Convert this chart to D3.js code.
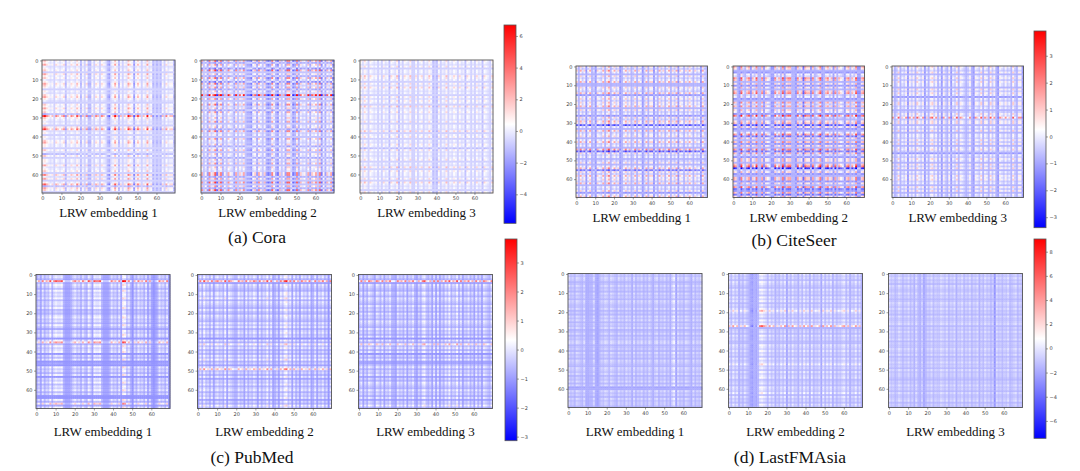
<!DOCTYPE html>
<html>
<head>
<meta charset="utf-8">
<script src="https://cdn.jsdelivr.net/npm/d3@7"></script>
<style>
  body { margin: 0; background: #fff; }
  .tick text { font-family: "DejaVu Sans", sans-serif; font-size: 5px; fill: #444; }
  .tick line { stroke: #444; stroke-width: 0.5; }
</style>
</head>
<body>
<svg id="fig" width="1080" height="471"></svg>
<script>
// ---- data ----
const panelTitles = ["(a) Cora", "(b) CiteSeer", "(c) PubMed", "(d) LastFMAsia"];
const embeddingLabels = ["LRW embedding 1", "LRW embedding 2", "LRW embedding 3"];
const axisTicks = [0, 10, 20, 30, 40, 50, 60];
const gridSize = 70;

// colour limits of each colorbar (vmin, vmax) and their tick labels
const colorLimits = [[-5.83, 6.69], [-3.39, 3.92], [-3.14, 3.81], [-7.44, 9.05]];
const colorbarTicks = [
  [-4, -2, 0, 2, 4, 6],
  [-3, -2, -1, 0, 1, 2, 3],
  [-3, -2, -1, 0, 1, 2, 3],
  [-6, -4, -2, 0, 2, 4, 6, 8]
];

// row / column profiles per embedding, one char per row or column:
// "0".."9" = 0..+9 steps, "a".."i" = -1..-9 steps
const coraRows = [
  ["102a01b201","a0210b0a12","0ab10201c6","10a0b25a0b","0a1200b1ac","1b00a2a01b","3a2b04c21b"],
  ["3c20d4b1c3","0d3a2c1a8b","2b03a1c20a","1a2b01c3a0","b20a1c02b1","0c1a2b10a3","3c2b4b2c4b"],
  ["10a1b00a21","0b1a20a0b1","a10b2a01a0","0a1b00a2b0","1b0a10c1a0","a01b0a2b10","0a1b20a0b1"]
];
const coraCols = [
  ["2310a0b10a","01c0a10a20","c0b1cc0b10","b10acda030","c0b0a310d0","20b0a3a0cb","cbc0b1a00c"],
  ["2b0c3a14d1","3c0b20ac2b","1a2bccd01c","20b1cdc30c","d1b0c33adc","3c1a0b2c10","2b3d0c1a2d"],
  ["1a20b10a0b","0b1a0c10a2","c0b10a2bb1","b01b0a20cb","c1b0a2b0a1","0b1a0c10b0","b1a0c10ab1"]
];
const citeseerRows = [
  ["1a20b1a02b","b10a2c01a1","02b1a0c1a2","1e0b2a01b0","2a0b3e1a0b","a1b02d1a20","1a2b0a1c02"],
  ["21bc0a32b1","c1b23a0cb2","a2b10c4ab1","2e1cb03d1b","2c1b3d2ac1","1b24fa1cb2","2c1b3dc2d1"],
  ["10a1b01a10","0b1a10c0a1","1a0ba104a1","1b0a1b00a1","a1b01ac0a1","0b1a1b0a10","1a0b1a1b0a"]
];
const citeseerCols = [
  ["1b2a1c02ba","c10a2b13b0","2a1cb02a1b","a2b10ca2b1","1c0b2a1b02","b1a2c10b1a","20b1a0c2ab"],
  ["21bc3ab12c","1a3bb2c10a","cc2a1b3c12","2bbc2a1d21","1c2ba13cb1","2a1c2b10ac","12b1a3cc12"],
  ["1ba2b0a1c1","a1b20a1c0b","12a1b0c1ab","1c0a2b10ab","a1bc10a2b1","0b2a1bc10a","1a0b2ab11c"]
];
const pubmedRows = [
  ["a0b9a10b1a","0a1b00a1ba","b01a0b1ac0","a10d16b1a0","1d0b1dcd1a","0b1d0a1b0a","1b0dd1b4c1"],
  ["a1b9c10ab1","1a2b10ab1a","b10ab1a1b0","1a0d1b3a1b","0b1a2b0c16","a0b1c0a1b0","1b0a1c0b2a"],
  ["a0b9c10ab1","0b10ab1a0b","1a0b10ab1a","0b1d1b5a1b","1d0b1cca1b","0a1c0b10ab","1a0b1c0a2b"]
];
const pubmedCols = [
  ["b0c1b0a2b1","2112bcccb0","1a0b1ab20c","2112bcccb1","a0b1c43a1b","d0b1a0b1c0","cdcb1a0b1d"],
  ["c1b2a0b1c0","1a0b2c10ab","b1a0c1b0a1","0c1b0a2b1c","b0c1a23a1c","1b0c1a0b1c","b1c0a1b0d1"],
  ["b1c0b10ac1","0b1c0a1bbc","1a0b1c0a1b","c0b12ab0c1","c1c0b1a2b0","a2b1c0a1b0","c1b0c10ab1"]
];
const lastfmRows = [
  ["0a10ba1a0b","1a0b10aa1b","0b1a1b0a1b","a1b0a11ba0","b1a0b10ab1","0a1b0a1b1d","c1a0b1a00b"],
  ["1a0b10ab1a","0b1a1b0a15","1a0b1a19ca","0b1a0bb10a","1a0b1a03a0","b1a01ba0b1","0a2b1a0b1a"],
  ["0a1a0b10aa","1a0ba10a1a","0b1aa01b0a","1a0a1b0aa1","0a1b0a1a0b","1a00ab0a1a","0b1aa01b0a"]
];
const lastfmCols = [
  ["1a0b10ab1c","cbb1cdb0a1","0b10ab1a0b","1a0c1b0a1b","0b1ac01b0a","1b0c13d1a0","b10ac1b0a1"],
  ["1b2a1c0b1a","bdecdb3421","b2a1c0b1a2","d1b2a0c1b2","a1c2b0a1d2","b1a2c1b0a1","2b1c0a2b1c"],
  ["1a0ba10b0a","1b0c1bc0db","0a1b0aa10a","1b0a1c0a1b","0a1b0a1c0b","1a0b0f1a0b","0a1ba01b0a"]
];
// size of one step, background level of each embedding, row-column interaction
const levelUnits = [0.35, 0.3, 0.2, 0.3];
const baseLevels = [[0, -0.3, 0], [-0.2, -0.2, -0.2], [-0.3, -0.3, -0.3], [-0.9, -0.8, -0.8]];
const mixK = [1.5, 1.5, 1.2, 1.0];

const allRows = [coraRows, citeseerRows, pubmedRows, lastfmRows];
const allCols = [coraCols, citeseerCols, pubmedCols, lastfmCols];

// ---- layout ----
const layout = [
  { hx: [42, 201, 360], hy: 60, hs: 133, cbx: 504, cby: [25, 223.3], capY: 216.5, tx: 257, ty: 243 },
  { hx: [576, 733, 892], hy: 66, hs: 131.5, cbx: 1034, cby: [31, 227.7], capY: 221.7, tx: 794, ty: 246 },
  { hx: [36, 197.5, 358.5], hy: 274.5, hs: 134, cbx: 505, cby: [239, 440.7], capY: 436, tx: 252, ty: 463 },
  { hx: [568, 728.5, 888.5], hy: 273.5, hs: 134, cbx: 1034, cby: [239, 438.3], capY: 436, tx: 790, ty: 463 }
];
const cbWidth = 12;
const serif = '"Liberation Serif", "Times New Roman", "DejaVu Serif", serif';

const svg = d3.select("#fig");
const defs = svg.append("defs");

// slight softening, like the downsampled original
defs.append("filter").attr("id", "soft")
  .attr("x", "-2%").attr("y", "-2%").attr("width", "104%").attr("height", "104%")
  .append("feGaussianBlur").attr("stdDeviation", 0.45);

const cells = d3.range(gridSize).flatMap(i => d3.range(gridSize).map(j => ({ i, j })));

panelTitles.forEach((title, p) => {
  const L = layout[p];
  const [lo, hi] = colorLimits[p];
  const unit = levelUnits[p];
  const level = ch => (ch >= "a" ? -(ch.charCodeAt(0) - 96) : +ch) * unit;
  const color = d3.scaleLinear()
    .domain([lo, (lo + hi) / 2, hi])
    .range(["#0000ff", "#ffffff", "#ff0000"])
    .clamp(true);

  embeddingLabels.forEach((label, e) => {
    const r = allRows[p][e].join("").split("").map(level);
    const c = allCols[p][e].join("").split("").map(level);
    const base = baseLevels[p][e];
    const k = mixK[p];
    const value = d => base + r[d.i] + c[d.j] + k * r[d.i] * c[d.j];

    const x = d3.scaleBand().domain(d3.range(gridSize)).range([L.hx[e], L.hx[e] + L.hs]);
    const y = d3.scaleBand().domain(d3.range(gridSize)).range([L.hy, L.hy + L.hs]);
    const g = svg.append("g");

    g.append("g")
      .attr("filter", "url(#soft)")
      .selectAll("rect")
      .data(cells)
      .join("rect")
      .attr("x", d => x(d.j))
      .attr("y", d => y(d.i))
      .attr("width", x.bandwidth() + 0.4)
      .attr("height", y.bandwidth() + 0.4)
      .attr("fill", d => color(value(d)));

    g.append("rect")
      .attr("x", L.hx[e]).attr("y", L.hy)
      .attr("width", L.hs).attr("height", L.hs)
      .attr("fill", "none").attr("stroke", "#555").attr("stroke-width", 0.9);

    g.append("g")
      .attr("transform", `translate(0,${L.hy + L.hs})`)
      .call(d3.axisBottom(x).tickValues(axisTicks).tickSize(2).tickPadding(1.5))
      .call(a => a.select(".domain").remove());

    g.append("g")
      .attr("transform", `translate(${L.hx[e]},0)`)
      .call(d3.axisLeft(y).tickValues(axisTicks).tickSize(2).tickPadding(1.5))
      .call(a => a.select(".domain").remove());

    svg.append("text")
      .attr("x", L.hx[e] + L.hs / 2)
      .attr("y", L.capY)
      .attr("text-anchor", "middle")
      .style("font-family", serif)
      .style("font-size", "13px")
      .style("fill", "#111")
      .text(label);
  });

  // colorbar
  const gid = "grad" + p;
  const grad = defs.append("linearGradient")
    .attr("id", gid).attr("x1", 0).attr("y1", 1).attr("x2", 0).attr("y2", 0);
  d3.range(0, 1.0001, 0.1).forEach(t => {
    grad.append("stop").attr("offset", t).attr("stop-color", color(lo + t * (hi - lo)));
  });
  const cbScale = d3.scaleLinear().domain([lo, hi]).range([L.cby[1], L.cby[0]]);
  svg.append("rect")
    .attr("x", L.cbx).attr("y", L.cby[0])
    .attr("width", cbWidth).attr("height", L.cby[1] - L.cby[0])
    .attr("fill", `url(#${gid})`)
    .attr("stroke", "#555").attr("stroke-width", 0.8);
  svg.append("g")
    .attr("transform", `translate(${L.cbx + cbWidth},0)`)
    .call(d3.axisRight(cbScale).tickValues(colorbarTicks[p]).tickFormat(d3.format("d"))
      .tickSize(2).tickPadding(1.5))
    .call(a => a.select(".domain").remove());

  svg.append("text")
    .attr("x", L.tx)
    .attr("y", L.ty)
    .attr("text-anchor", "middle")
    .style("font-family", serif)
    .style("font-size", "17.5px")
    .style("fill", "#111")
    .text(title);
});
</script>
</body>
</html>
